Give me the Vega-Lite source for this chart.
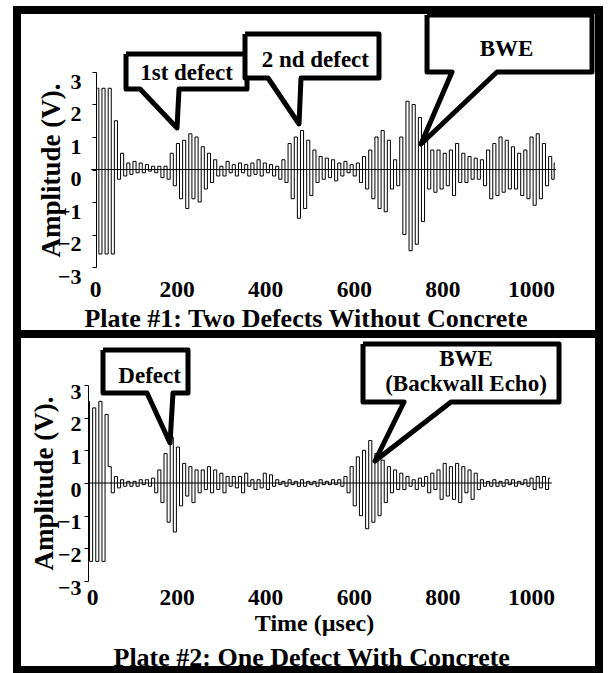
{
"$schema": "https://vega.github.io/schema/vega-lite/v6.json",
"background": "white",
"padding": {"left": 13, "top": 5, "right": 5, "bottom": 0},
"spacing": 118,
"bounds": "flush",
"config": {"view": {"stroke": null}, "font": "Liberation Serif",
 "axis": {"grid": false, "labelFont": "Liberation Serif", "labelFontWeight": "bold", "labelColor": "black", "labelFlush": false, "labelOverlap": false,
  "titleFont": "Liberation Serif", "titleFontWeight": "bold", "titleColor": "black", "domainColor": "black", "tickColor": "black"},
 "axisX": {"domain": false, "ticks": false, "labelFontSize": 23.5, "labelBaseline": "middle"},
 "axisY": {"tickSize": 4, "labelFontSize": 22, "labelBaseline": "middle", "titleFontSize": 27, "titleAngle": -90, "titleBaseline": "middle", "titleAlign": "center", "titleY": 98}},
"datasets": {
"frames": [
{"panel":1,"t":-160.2,"t2":1153.2,"a":4.908,"a2":-5.062},
{"panel":2,"t":-160.2,"t2":1153.2,"a":4.561,"a2":-5.724}
],
"zero": [
{"panel":1,"t":7,"t2":1056,"a":0},
{"panel":2,"t":0,"t2":1047,"a":0}
],
"wave1": [
{"t":21,"a":2.5},{"t":28,"a":-2.6},{"t":35,"a":2.5},{"t":42,"a":-2.6},{"t":49,"a":2.5},{"t":56,"a":-2.6},{"t":63,"a":1.5},{"t":70,"a":-0.3},{"t":77,"a":0.5},{"t":84,"a":-0.2},
{"t":91,"a":0.2},{"t":98,"a":-0.15},{"t":105,"a":0.25},{"t":112,"a":-0.1},{"t":119,"a":0.2},{"t":126,"a":-0.1},{"t":133,"a":0.15},{"t":140,"a":-0.05},{"t":147,"a":0.1},{"t":154,"a":-0.1},
{"t":161,"a":0.1},{"t":168,"a":-0.25},{"t":175,"a":0.1},{"t":182,"a":-0.3},{"t":189,"a":0.5},{"t":196,"a":-0.5},{"t":203,"a":0.8},{"t":210,"a":-0.9},{"t":217,"a":0.9},{"t":224,"a":-1.2},
{"t":231,"a":1.1},{"t":238,"a":-0.9},{"t":245,"a":1.0},{"t":252,"a":-1.0},{"t":259,"a":0.7},{"t":266,"a":-0.6},{"t":273,"a":0.5},{"t":280,"a":-0.4},{"t":287,"a":0.3},{"t":294,"a":-0.2},
{"t":301,"a":0.1},{"t":308,"a":-0.2},{"t":315,"a":0.25},{"t":322,"a":-0.1},{"t":329,"a":0.15},{"t":336,"a":-0.2},{"t":343,"a":0.2},{"t":350,"a":-0.1},{"t":357,"a":0.15},{"t":364,"a":-0.2},
{"t":371,"a":0.2},{"t":378,"a":-0.15},{"t":385,"a":0.3},{"t":392,"a":-0.2},{"t":399,"a":0.2},{"t":406,"a":-0.1},{"t":413,"a":0.15},{"t":420,"a":-0.2},{"t":427,"a":0.1},{"t":434,"a":-0.3},
{"t":441,"a":0.3},{"t":448,"a":-0.4},{"t":455,"a":0.8},{"t":462,"a":-0.9},{"t":469,"a":1.0},{"t":476,"a":-1.5},{"t":483,"a":1.2},{"t":490,"a":-1.2},{"t":497,"a":0.9},{"t":504,"a":-0.8},
{"t":511,"a":0.6},{"t":518,"a":-0.4},{"t":525,"a":0.4},{"t":532,"a":-0.3},{"t":539,"a":0.35},{"t":546,"a":-0.25},{"t":553,"a":0.3},{"t":560,"a":-0.35},{"t":567,"a":0.2},{"t":574,"a":-0.2},
{"t":581,"a":0.25},{"t":588,"a":-0.1},{"t":595,"a":0.15},{"t":602,"a":-0.2},{"t":609,"a":0.2},{"t":616,"a":-0.4},{"t":623,"a":0.4},{"t":630,"a":-0.6},{"t":637,"a":0.6},{"t":644,"a":-0.9},
{"t":651,"a":1.0},{"t":658,"a":-1.2},{"t":665,"a":1.2},{"t":672,"a":-1.3},{"t":679,"a":0.9},{"t":686,"a":-0.6},{"t":693,"a":0.3},{"t":700,"a":-0.5},{"t":707,"a":1.0},{"t":714,"a":-2.0},
{"t":721,"a":2.1},{"t":728,"a":-2.5},{"t":735,"a":2.0},{"t":742,"a":-2.3},{"t":749,"a":1.6},{"t":756,"a":-1.6},{"t":763,"a":0.9},{"t":770,"a":-0.6},{"t":777,"a":0.6},{"t":784,"a":-0.7},
{"t":791,"a":0.6},{"t":798,"a":-0.6},{"t":805,"a":0.5},{"t":812,"a":-0.5},{"t":819,"a":0.6},{"t":826,"a":-0.8},{"t":833,"a":0.8},{"t":840,"a":-0.4},{"t":847,"a":0.5},{"t":854,"a":-0.4},
{"t":861,"a":0.4},{"t":868,"a":-0.3},{"t":875,"a":0.35},{"t":882,"a":-0.3},{"t":889,"a":0.3},{"t":896,"a":-0.5},{"t":903,"a":0.6},{"t":910,"a":-0.9},{"t":917,"a":0.8},{"t":924,"a":-0.8},
{"t":931,"a":1.0},{"t":938,"a":-0.7},{"t":945,"a":0.9},{"t":952,"a":-0.6},{"t":959,"a":0.7},{"t":966,"a":-0.6},{"t":973,"a":0.5},{"t":980,"a":-0.8},{"t":987,"a":0.6},{"t":994,"a":-0.9},
{"t":1001,"a":1.0},{"t":1008,"a":-1.1},{"t":1015,"a":1.1},{"t":1022,"a":-0.9},{"t":1029,"a":0.8},{"t":1036,"a":-0.5},{"t":1043,"a":0.4},{"t":1050,"a":-0.3},{"t":1054,"a":0.2}
],
"wave2": [
{"t":0,"a":2.5},{"t":7,"a":-2.4},{"t":14,"a":2.3},{"t":21,"a":-2.4},{"t":28,"a":2.5},{"t":35,"a":-2.4},{"t":42,"a":2.1},{"t":49,"a":0.5},{"t":56,"a":-0.3},{"t":63,"a":0.2},
{"t":70,"a":-0.15},{"t":77,"a":0.1},{"t":84,"a":-0.1},{"t":91,"a":0.05},{"t":98,"a":-0.1},{"t":105,"a":0.05},{"t":112,"a":-0.1},{"t":119,"a":0.1},{"t":126,"a":-0.05},{"t":133,"a":0.1},
{"t":140,"a":-0.1},{"t":147,"a":0.15},{"t":154,"a":-0.3},{"t":161,"a":0.4},{"t":168,"a":-0.6},{"t":175,"a":0.9},{"t":182,"a":-1.2},{"t":189,"a":1.4},{"t":196,"a":-1.5},{"t":203,"a":1.1},
{"t":210,"a":-0.7},{"t":217,"a":0.6},{"t":224,"a":-0.4},{"t":231,"a":0.5},{"t":238,"a":-0.6},{"t":245,"a":0.4},{"t":252,"a":-0.3},{"t":259,"a":0.4},{"t":266,"a":-0.2},{"t":273,"a":0.5},
{"t":280,"a":-0.3},{"t":287,"a":0.4},{"t":294,"a":-0.2},{"t":301,"a":0.3},{"t":308,"a":-0.3},{"t":315,"a":0.2},{"t":322,"a":-0.1},{"t":329,"a":0.2},{"t":336,"a":-0.15},{"t":343,"a":0.2},
{"t":350,"a":-0.3},{"t":357,"a":0.3},{"t":364,"a":-0.1},{"t":371,"a":0.1},{"t":378,"a":-0.2},{"t":385,"a":0.1},{"t":392,"a":-0.15},{"t":399,"a":0.3},{"t":406,"a":-0.2},{"t":413,"a":0.25},
{"t":420,"a":-0.1},{"t":427,"a":0.1},{"t":434,"a":-0.05},{"t":441,"a":0.05},{"t":448,"a":-0.1},{"t":455,"a":0.1},{"t":462,"a":-0.05},{"t":469,"a":0.05},{"t":476,"a":-0.1},{"t":483,"a":0.1},
{"t":490,"a":-0.1},{"t":497,"a":0.05},{"t":504,"a":-0.05},{"t":511,"a":0.05},{"t":518,"a":-0.1},{"t":525,"a":0.1},{"t":532,"a":-0.05},{"t":539,"a":0.05},{"t":546,"a":-0.05},{"t":553,"a":0.1},
{"t":560,"a":-0.05},{"t":567,"a":0.1},{"t":574,"a":-0.1},{"t":581,"a":0.2},{"t":588,"a":-0.3},{"t":595,"a":0.5},{"t":602,"a":-0.7},{"t":609,"a":0.8},{"t":616,"a":-1.0},{"t":623,"a":1.0},
{"t":630,"a":-1.4},{"t":637,"a":1.3},{"t":644,"a":-1.2},{"t":651,"a":0.9},{"t":658,"a":-1.0},{"t":665,"a":0.7},{"t":672,"a":-0.6},{"t":679,"a":0.5},{"t":686,"a":-0.3},{"t":693,"a":0.4},
{"t":700,"a":-0.2},{"t":707,"a":0.3},{"t":714,"a":-0.2},{"t":721,"a":0.2},{"t":728,"a":-0.1},{"t":735,"a":0.1},{"t":742,"a":-0.2},{"t":749,"a":0.15},{"t":756,"a":-0.1},{"t":763,"a":0.2},
{"t":770,"a":-0.3},{"t":777,"a":0.3},{"t":784,"a":-0.2},{"t":791,"a":0.4},{"t":798,"a":-0.5},{"t":805,"a":0.6},{"t":812,"a":-0.4},{"t":819,"a":0.5},{"t":826,"a":-0.5},{"t":833,"a":0.6},
{"t":840,"a":-0.6},{"t":847,"a":0.5},{"t":854,"a":-0.3},{"t":861,"a":0.4},{"t":868,"a":-0.5},{"t":875,"a":0.3},{"t":882,"a":-0.2},{"t":889,"a":0.1},{"t":896,"a":-0.1},{"t":903,"a":0.05},
{"t":910,"a":-0.1},{"t":917,"a":0.1},{"t":924,"a":-0.1},{"t":931,"a":0.05},{"t":938,"a":-0.1},{"t":945,"a":0.1},{"t":952,"a":-0.05},{"t":959,"a":0.1},{"t":966,"a":-0.1},{"t":973,"a":0.05},
{"t":980,"a":-0.05},{"t":987,"a":0.1},{"t":994,"a":-0.1},{"t":1001,"a":0.15},{"t":1008,"a":-0.2},{"t":1015,"a":0.2},{"t":1022,"a":-0.15},{"t":1029,"a":0.2},{"t":1036,"a":-0.2},{"t":1043,"a":0.15}
],
"callouts": [
{"panel":1,"id":"c1","i":0,"t":85.8,"a":3.554},{"panel":1,"id":"c1","i":1,"t":358.8,"a":3.554},{"panel":1,"id":"c1","i":2,"t":358.8,"a":2.477},{"panel":1,"id":"c1","i":3,"t":205.4,"a":2.477},{"panel":1,"id":"c1","i":4,"t":200.9,"a":1.277},{"panel":1,"id":"c1","i":5,"t":117.4,"a":2.477},{"panel":1,"id":"c1","i":6,"t":85.8,"a":2.477},{"panel":1,"id":"c1","i":7,"t":85.8,"a":3.554},
{"panel":1,"id":"c2","i":0,"t":354.3,"a":4.169},{"panel":1,"id":"c2","i":1,"t":656.7,"a":4.169},{"panel":1,"id":"c2","i":2,"t":656.7,"a":2.815},{"panel":1,"id":"c2","i":3,"t":480.7,"a":2.815},{"panel":1,"id":"c2","i":4,"t":476.2,"a":1.4},{"panel":1,"id":"c2","i":5,"t":406.2,"a":2.815},{"panel":1,"id":"c2","i":6,"t":354.3,"a":2.815},{"panel":1,"id":"c2","i":7,"t":354.3,"a":4.169},
{"panel":1,"id":"c3","i":0,"t":765.1,"a":4.754},{"panel":1,"id":"c3","i":1,"t":1137.4,"a":4.754},{"panel":1,"id":"c3","i":2,"t":1137.4,"a":3.0},{"panel":1,"id":"c3","i":3,"t":923.0,"a":3.0},{"panel":1,"id":"c3","i":4,"t":751.5,"a":0.785},{"panel":1,"id":"c3","i":5,"t":821.5,"a":3.0},{"panel":1,"id":"c3","i":6,"t":765.1,"a":3.0},{"panel":1,"id":"c3","i":7,"t":765.1,"a":4.754},
{"panel":2,"id":"c4","i":0,"t":33.9,"a":4.071},{"panel":2,"id":"c4","i":1,"t":225.7,"a":4.071},{"panel":2,"id":"c4","i":2,"t":225.7,"a":2.755},{"panel":2,"id":"c4","i":3,"t":191.8,"a":2.755},{"panel":2,"id":"c4","i":4,"t":185.1,"a":1.224},{"panel":2,"id":"c4","i":5,"t":133.2,"a":2.755},{"panel":2,"id":"c4","i":6,"t":33.9,"a":2.755},{"panel":2,"id":"c4","i":7,"t":33.9,"a":4.071},
{"panel":2,"id":"c5","i":0,"t":620.6,"a":4.255},{"panel":2,"id":"c5","i":1,"t":1063.0,"a":4.255},{"panel":2,"id":"c5","i":2,"t":1063.0,"a":2.48},{"panel":2,"id":"c5","i":3,"t":819.2,"a":2.48},{"panel":2,"id":"c5","i":4,"t":647.7,"a":0.673},{"panel":2,"id":"c5","i":5,"t":713.2,"a":2.48},{"panel":2,"id":"c5","i":6,"t":620.6,"a":2.48},{"panel":2,"id":"c5","i":7,"t":620.6,"a":4.255}
],
"notes": [
{"panel":1,"kind":"callout","t":222.3,"a":2.98,"label":"1st defect"},
{"panel":1,"kind":"callout","t":513,"a":3.36,"label":"2 nd defect"},
{"panel":1,"kind":"callout","t":944.7,"a":3.70,"label":"BWE"},
{"panel":2,"kind":"callout","t":139,"a":3.276,"label":"Defect"},
{"panel":2,"kind":"callout","t":853,"a":3.796,"label":"BWE"},
{"panel":2,"kind":"callout","t":853,"a":3.03,"label":"(Backwall Echo)"},
{"panel":1,"kind":"caption","t":492,"a":-4.6,"label":"Plate #1:  Two Defects Without Concrete"},
{"panel":2,"kind":"caption","t":504.8,"a":-5.357,"label":"Plate #2:  One Defect With Concrete"}
]
},
"vconcat": [
{
"width": 483, "height": 195,
"encoding": {
 "x": {"field": "t", "type": "quantitative", "scale": {"domain": [0, 1090], "nice": false, "zero": false},
  "axis": {"title": null, "values": [0, 200, 400, 600, 800, 1000], "format": "d", "labelPadding": 22,
   "labelOffset": {"condition": {"test": "datum.value === 0", "value": 7}, "value": 0}}},
 "y": {"field": "a", "type": "quantitative", "scale": {"domain": [-3, 3], "nice": false, "zero": false},
  "axis": {"title": "Amplitude (V).", "values": [-3, -2, -1, 0, 1, 2, 3], "format": "d", "offset": -8, "labelPadding": 11, "labelOffset": 9, "titleX": -45}}
},
"layer": [
{"data": {"name": "wave1"},
 "mark": {"type": "line", "interpolate": "step", "color": "black", "strokeWidth": 1}},
{"data": {"name": "frames"},
 "transform": [{"filter": "datum.panel == 1"}],
 "mark": {"type": "rect", "filled": false, "color": "black", "strokeWidth": 8, "clip": false},
 "encoding": {"x2": {"field": "t2"}, "y2": {"field": "a2"}}},
{"data": {"name": "zero"},
 "transform": [{"filter": "datum.panel == 1"}],
 "mark": {"type": "rule", "color": "black", "strokeWidth": 1},
 "encoding": {"x2": {"field": "t2"}}},
{"data": {"name": "callouts"},
 "transform": [{"filter": "datum.panel == 1"}],
 "mark": {"type": "line", "fill": "white", "stroke": "black", "strokeWidth": 5, "strokeJoin": "round", "clip": false},
 "encoding": {
  "order": {"field": "i", "type": "quantitative"},
  "detail": {"field": "id", "type": "nominal"}}},
{"data": {"name": "notes"},
 "transform": [{"filter": "datum.panel == 1 && datum.kind == 'callout'"}],
 "mark": {"type": "text", "font": "Liberation Serif", "fontWeight": "bold", "fontSize": 23, "color": "black", "align": "center", "baseline": "middle"},
 "encoding": {"text": {"field": "label"}}},
{"data": {"name": "notes"},
 "transform": [{"filter": "datum.panel == 1 && datum.kind == 'caption'"}],
 "mark": {"type": "text", "font": "Liberation Serif", "fontWeight": "bold", "fontSize": 26, "color": "black", "align": "center", "baseline": "middle"},
 "encoding": {"text": {"field": "label"}}}
]
},
{
"width": 483, "height": 196,
"encoding": {
 "x": {"field": "t", "type": "quantitative", "scale": {"domain": [0, 1090], "nice": false, "zero": false},
  "axis": {"title": "Time (µsec)", "values": [0, 200, 400, 600, 800, 1000], "format": "d", "labelPadding": 16,
   "labelOffset": {"condition": {"test": "datum.value === 0", "value": 4}, "value": 0},
   "titleFontSize": 24, "titleX": 226, "titleY": 42, "titleBaseline": "middle", "titleAlign": "center"}},
 "y": {"field": "a", "type": "quantitative", "scale": {"domain": [-3, 3], "nice": false, "zero": false},
  "axis": {"title": "Amplitude (V).", "values": [-3, -2, -1, 0, 1, 2, 3], "format": "d", "labelPadding": 3, "labelOffset": 6, "titleX": -44}}
},
"layer": [
{"data": {"name": "wave2"},
 "mark": {"type": "line", "interpolate": "step", "color": "black", "strokeWidth": 1}},
{"data": {"name": "frames"},
 "transform": [{"filter": "datum.panel == 2"}],
 "mark": {"type": "rect", "filled": false, "color": "black", "strokeWidth": 8, "clip": false},
 "encoding": {"x2": {"field": "t2"}, "y2": {"field": "a2"}}},
{"data": {"name": "zero"},
 "transform": [{"filter": "datum.panel == 2"}],
 "mark": {"type": "rule", "color": "black", "strokeWidth": 1},
 "encoding": {"x2": {"field": "t2"}}},
{"data": {"name": "callouts"},
 "transform": [{"filter": "datum.panel == 2"}],
 "mark": {"type": "line", "fill": "white", "stroke": "black", "strokeWidth": 5, "strokeJoin": "round", "clip": false},
 "encoding": {
  "order": {"field": "i", "type": "quantitative"},
  "detail": {"field": "id", "type": "nominal"}}},
{"data": {"name": "notes"},
 "transform": [{"filter": "datum.panel == 2 && datum.kind == 'callout'"}],
 "mark": {"type": "text", "font": "Liberation Serif", "fontWeight": "bold", "fontSize": 23, "color": "black", "align": "center", "baseline": "middle"},
 "encoding": {"text": {"field": "label"}}},
{"data": {"name": "notes"},
 "transform": [{"filter": "datum.panel == 2 && datum.kind == 'caption'"}],
 "mark": {"type": "text", "font": "Liberation Serif", "fontWeight": "bold", "fontSize": 26, "color": "black", "align": "center", "baseline": "middle"},
 "encoding": {"text": {"field": "label"}}}
]
}
]
}
